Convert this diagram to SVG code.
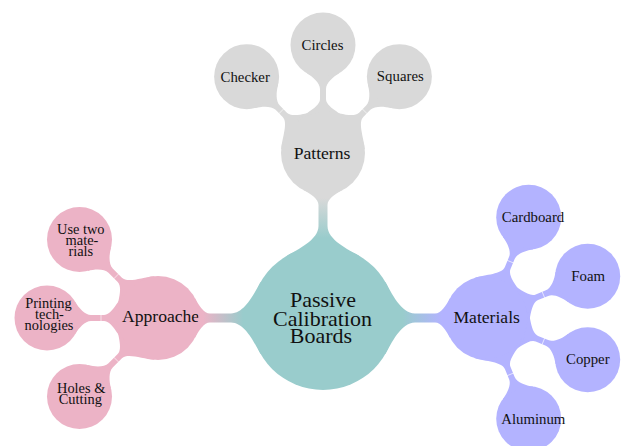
<svg xmlns="http://www.w3.org/2000/svg" width="624" height="446" viewBox="0 0 624 446">
<defs>
<style>
.ctr{fill:#99CCCC}
.pat{fill:#D9D9D9}
.app{fill:#ECB3C6}
.mat{fill:#B3B3FF}
.tick{stroke:#ffffff;stroke-width:0.8;stroke-opacity:0.75;fill:none}
text{font-family:"Liberation Serif","Times New Roman",serif;fill:#111;text-anchor:middle}
.t0{font-size:22px}
.t1{font-size:17.6px}
.t2{font-size:14.8px}
.t3{font-size:14.4px}
</style>
<linearGradient id="gP" gradientUnits="userSpaceOnUse" x1="80" y1="0" x2="120" y2="0"><stop offset="0" stop-color="#99CCCC"/><stop offset="1" stop-color="#D9D9D9"/></linearGradient>
<linearGradient id="gA" gradientUnits="userSpaceOnUse" x1="80" y1="0" x2="120" y2="0"><stop offset="0" stop-color="#99CCCC"/><stop offset="1" stop-color="#ECB3C6"/></linearGradient>
<linearGradient id="gM" gradientUnits="userSpaceOnUse" x1="80" y1="0" x2="119" y2="0"><stop offset="0" stop-color="#99CCCC"/><stop offset="1" stop-color="#B3B3FF"/></linearGradient>
</defs>
<rect width="624" height="446" fill="#ffffff"/>

<g id="nodes">
<g id="center"><circle class="ctr" cx="323" cy="318" r="72"/>
<text class="t0" x="323" y="306.7">Passive</text><text class="t0" x="322.5" y="325.7">Calibration</text><text class="t0" x="321" y="343.3">Boards</text></g>

<g id="patterns"><circle class="pat" cx="323" cy="153" r="42"/><text class="t1" x="322" y="159">Patterns</text></g>
<g id="checker"><circle class="pat" cx="246.63" cy="76.63" r="32.5"/><text class="t2" x="245.2" y="81.7">Checker</text></g>
<g id="circles"><circle class="pat" cx="323" cy="45" r="32.5"/><text class="t2" x="322.5" y="49.5">Circles</text></g>
<g id="squares"><circle class="pat" cx="399.37" cy="76.63" r="32.5"/><text class="t2" x="400.3" y="80.8">Squares</text></g>

<g id="approaches"><circle class="app" cx="158" cy="318" r="42"/><text class="t1" x="122" y="322" style="text-anchor:start">Approaches</text></g>
<g id="usetwo"><circle class="app" cx="79.51" cy="239.51" r="32.5"/><text class="t3" x="80.8" y="234">Use two</text><text class="t3" x="82" y="245">mate-</text><text class="t3" x="80.8" y="255.7">rials</text></g>
<g id="printing"><circle class="app" cx="47" cy="318" r="32.5"/><text class="t3" x="48.5" y="308.3">Printing</text><text class="t3" x="49.5" y="319.3">tech-</text><text class="t3" x="49" y="329.5">nologies</text></g>
<g id="holes"><circle class="app" cx="79.51" cy="396.49" r="32.5"/><text class="t3" x="81.2" y="393">Holes &amp;</text><text class="t3" x="80.3" y="404">Cutting</text></g>

<g id="materials"><circle class="mat" cx="487" cy="318" r="42"/><text class="t1" x="486.7" y="323.3">Materials</text></g>
<g id="cardboard"><circle class="mat" cx="528.71" cy="217.3" r="32.5"/><text class="t2" x="533" y="221.7">Cardboard</text></g>
<g id="foam"><circle class="mat" cx="587.7" cy="276.29" r="32.5"/><text class="t2" x="588.2" y="281">Foam</text></g>
<g id="copper"><circle class="mat" cx="587.7" cy="359.71" r="32.5"/><text class="t2" x="587.8" y="363.6">Copper</text></g>
<g id="aluminum"><circle class="mat" cx="528.71" cy="418.7" r="32.5"/><text class="t2" x="533.3" y="424.3">Aluminum</text></g>
</g>

<g id="connectors">
<path fill="url(#gP)" transform="translate(323,318) rotate(-90)" d="M 62.35,-36 C 68.35,-25.6 78,-4.5 92,-4.5 L 113,-4.5 C 119,-4.5 123.7,-11.77 127.92,-19.72 L 129.24,-19.01 A 40.5 40.5 0 0 0 129.24,19.01 L 127.92,19.72 C 123.7,11.77 119,4.5 113,4.5 L 92,4.5 C 78,4.5 68.35,25.6 62.35,36 L 61.05,35.25 A 70.5 70.5 0 0 0 61.05,-35.25 Z"/>
<path fill="url(#gA)" transform="translate(323,318) rotate(180)" d="M 62.35,-36 C 68.35,-25.6 78,-4.5 92,-4.5 L 113,-4.5 C 119,-4.5 123.7,-11.77 127.92,-19.72 L 129.24,-19.01 A 40.5 40.5 0 0 0 129.24,19.01 L 127.92,19.72 C 123.7,11.77 119,4.5 113,4.5 L 92,4.5 C 78,4.5 68.35,25.6 62.35,36 L 61.05,35.25 A 70.5 70.5 0 0 0 61.05,-35.25 Z"/>
<path fill="url(#gM)" transform="translate(323,318)" d="M 62.35,-36 C 68.35,-25.6 78,-4.5 92,-4.5 L 112,-4.5 C 118,-4.5 122.7,-11.77 126.92,-19.72 L 128.24,-19.01 A 40.5 40.5 0 0 0 128.24,19.01 L 126.92,19.72 C 122.7,11.77 118,4.5 112,4.5 L 92,4.5 C 78,4.5 68.35,25.6 62.35,36 L 61.05,35.25 A 70.5 70.5 0 0 0 61.05,-35.25 Z"/>

<g class="pat" transform="translate(323,153) rotate(-135)"><path d="M 32.17,-27 C 39.9,-17.8 46,-3 54,-3 L 64,-3 C 70,-3 76.35,-10.19 79.85,-16.25 L 81.15,-15.5 A 31 31 0 0 0 81.15,15.5 L 79.85,16.25 C 76.35,10.19 70,3 64,3 L 54,3 C 46,3 39.9,17.8 32.17,27 L 31.02,26.03 A 40.5 40.5 0 0 0 31.02,-26.03 Z"/><path class="tick" d="M59,-3.5 V3.5"/></g>
<g class="pat" transform="translate(323,153) rotate(-90)"><path d="M 32.17,-27 C 39.9,-17.8 46,-3 54,-3 L 64,-3 C 70,-3 76.35,-10.19 79.85,-16.25 L 81.15,-15.5 A 31 31 0 0 0 81.15,15.5 L 79.85,16.25 C 76.35,10.19 70,3 64,3 L 54,3 C 46,3 39.9,17.8 32.17,27 L 31.02,26.03 A 40.5 40.5 0 0 0 31.02,-26.03 Z"/></g>
<g class="pat" transform="translate(323,153) rotate(-45)"><path d="M 32.17,-27 C 39.9,-17.8 46,-3 54,-3 L 64,-3 C 70,-3 76.35,-10.19 79.85,-16.25 L 81.15,-15.5 A 31 31 0 0 0 81.15,15.5 L 79.85,16.25 C 76.35,10.19 70,3 64,3 L 54,3 C 46,3 39.9,17.8 32.17,27 L 31.02,26.03 A 40.5 40.5 0 0 0 31.02,-26.03 Z"/><path class="tick" d="M59,-3.5 V3.5"/></g>

<g class="app" transform="translate(158,318) rotate(-135)"><path d="M 32.17,-27 C 39.9,-17.8 46,-3 54,-3 L 67,-3 C 73,-3 79.35,-10.19 82.85,-16.25 L 84.15,-15.5 A 31 31 0 0 0 84.15,15.5 L 82.85,16.25 C 79.35,10.19 73,3 67,3 L 54,3 C 46,3 39.9,17.8 32.17,27 L 31.02,26.03 A 40.5 40.5 0 0 0 31.02,-26.03 Z"/><path class="tick" d="M59,-3.5 V3.5"/></g>
<g class="app" transform="translate(158,318) rotate(180)"><path d="M 32.17,-27 C 39.9,-17.8 46,-3 54,-3 L 67,-3 C 73,-3 79.35,-10.19 82.85,-16.25 L 84.15,-15.5 A 31 31 0 0 0 84.15,15.5 L 82.85,16.25 C 79.35,10.19 73,3 67,3 L 54,3 C 46,3 39.9,17.8 32.17,27 L 31.02,26.03 A 40.5 40.5 0 0 0 31.02,-26.03 Z"/><path class="tick" d="M57,-3.5 V3.5"/></g>
<g class="app" transform="translate(158,318) rotate(135)"><path d="M 32.17,-27 C 39.9,-17.8 46,-3 54,-3 L 67,-3 C 73,-3 79.35,-10.19 82.85,-16.25 L 84.15,-15.5 A 31 31 0 0 0 84.15,15.5 L 82.85,16.25 C 79.35,10.19 73,3 67,3 L 54,3 C 46,3 39.9,17.8 32.17,27 L 31.02,26.03 A 40.5 40.5 0 0 0 31.02,-26.03 Z"/><path class="tick" d="M59,-3.5 V3.5"/></g>

<g class="mat" transform="translate(487,318) rotate(-67.5)"><path d="M 32.17,-27 C 39.9,-17.8 46,-3 54,-3 L 65,-3 C 71,-3 77.35,-10.19 80.85,-16.25 L 82.15,-15.5 A 31 31 0 0 0 82.15,15.5 L 80.85,16.25 C 77.35,10.19 71,3 65,3 L 54,3 C 46,3 39.9,17.8 32.17,27 L 31.02,26.03 A 40.5 40.5 0 0 0 31.02,-26.03 Z"/><path class="tick" d="M61,-3.5 V3.5"/></g>
<g class="mat" transform="translate(487,318) rotate(-22.5)"><path d="M 32.17,-27 C 39.9,-17.8 46,-3 54,-3 L 65,-3 C 71,-3 77.35,-10.19 80.85,-16.25 L 82.15,-15.5 A 31 31 0 0 0 82.15,15.5 L 80.85,16.25 C 77.35,10.19 71,3 65,3 L 54,3 C 46,3 39.9,17.8 32.17,27 L 31.02,26.03 A 40.5 40.5 0 0 0 31.02,-26.03 Z"/><path class="tick" d="M61,-3.5 V3.5"/></g>
<g class="mat" transform="translate(487,318) rotate(22.5)"><path d="M 32.17,-27 C 39.9,-17.8 46,-3 54,-3 L 65,-3 C 71,-3 77.35,-10.19 80.85,-16.25 L 82.15,-15.5 A 31 31 0 0 0 82.15,15.5 L 80.85,16.25 C 77.35,10.19 71,3 65,3 L 54,3 C 46,3 39.9,17.8 32.17,27 L 31.02,26.03 A 40.5 40.5 0 0 0 31.02,-26.03 Z"/><path class="tick" d="M61,-3.5 V3.5"/></g>
<g class="mat" transform="translate(487,318) rotate(67.5)"><path d="M 32.17,-27 C 39.9,-17.8 46,-3 54,-3 L 65,-3 C 71,-3 77.35,-10.19 80.85,-16.25 L 82.15,-15.5 A 31 31 0 0 0 82.15,15.5 L 80.85,16.25 C 77.35,10.19 71,3 65,3 L 54,3 C 46,3 39.9,17.8 32.17,27 L 31.02,26.03 A 40.5 40.5 0 0 0 31.02,-26.03 Z"/><path class="tick" d="M61,-3.5 V3.5"/></g>
</g>
</svg>
